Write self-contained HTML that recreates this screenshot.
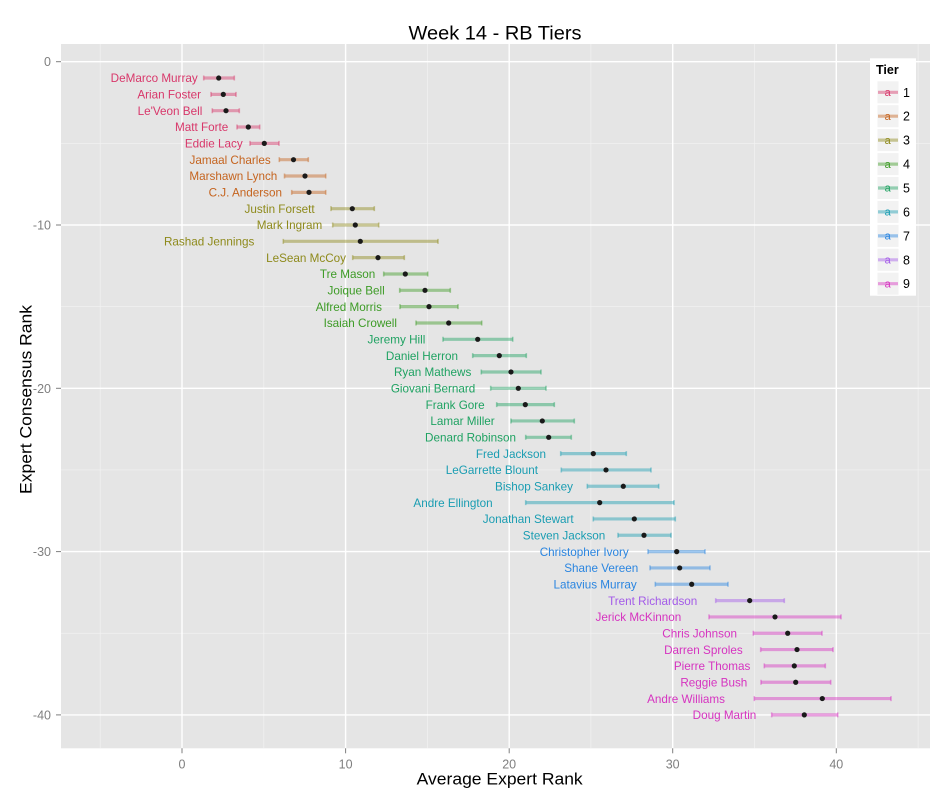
<!DOCTYPE html>
<html><head><meta charset="utf-8"><style>
html,body{margin:0;padding:0;background:#fff;}
svg{display:block;font-family:"Liberation Sans",Arial,sans-serif;}
</style></head><body>
<svg width="950" height="800" viewBox="0 0 950 800" xmlns="http://www.w3.org/2000/svg">
<rect x="0" y="0" width="950" height="800" fill="#fff"/>
<text x="495" y="39.5" font-size="19.5" text-anchor="middle" fill="#000" textLength="173" lengthAdjust="spacingAndGlyphs">Week 14 - RB Tiers</text>
<!-- panel -->
<rect x="61" y="44" width="869" height="704.3" fill="#E5E5E5"/>
<g stroke="#F2F2F2" stroke-width="0.7">
<line x1="100.2" y1="44" x2="100.2" y2="748.3"/>
<line x1="263.8" y1="44" x2="263.8" y2="748.3"/>
<line x1="427.4" y1="44" x2="427.4" y2="748.3"/>
<line x1="590.9" y1="44" x2="590.9" y2="748.3"/>
<line x1="754.5" y1="44" x2="754.5" y2="748.3"/>
<line x1="918.1" y1="44" x2="918.1" y2="748.3"/>
<line x1="61" y1="143.35" x2="930" y2="143.35"/>
<line x1="61" y1="306.65" x2="930" y2="306.65"/>
<line x1="61" y1="469.95" x2="930" y2="469.95"/>
<line x1="61" y1="633.25" x2="930" y2="633.25"/>
</g>
<g stroke="#FFFFFF" stroke-width="1.4">
<line x1="182" y1="44" x2="182" y2="748.3"/>
<line x1="345.6" y1="44" x2="345.6" y2="748.3"/>
<line x1="509.2" y1="44" x2="509.2" y2="748.3"/>
<line x1="672.7" y1="44" x2="672.7" y2="748.3"/>
<line x1="836.3" y1="44" x2="836.3" y2="748.3"/>
<line x1="61" y1="61.7" x2="930" y2="61.7"/>
<line x1="61" y1="225" x2="930" y2="225"/>
<line x1="61" y1="388.3" x2="930" y2="388.3"/>
<line x1="61" y1="551.6" x2="930" y2="551.6"/>
<line x1="61" y1="714.9" x2="930" y2="714.9"/>
</g>
<!-- ticks -->
<g stroke="#7F7F7F" stroke-width="1">
<line x1="56" y1="61.7" x2="61" y2="61.7"/>
<line x1="56" y1="225" x2="61" y2="225"/>
<line x1="56" y1="388.3" x2="61" y2="388.3"/>
<line x1="56" y1="551.6" x2="61" y2="551.6"/>
<line x1="56" y1="714.9" x2="61" y2="714.9"/>
<line x1="182" y1="748.3" x2="182" y2="753.3"/>
<line x1="345.6" y1="748.3" x2="345.6" y2="753.3"/>
<line x1="509.2" y1="748.3" x2="509.2" y2="753.3"/>
<line x1="672.7" y1="748.3" x2="672.7" y2="753.3"/>
<line x1="836.3" y1="748.3" x2="836.3" y2="753.3"/>
</g>
<g fill="#7F7F7F" font-size="12.5" text-anchor="end">
<text x="51" y="66.2">0</text>
<text x="51" y="229.5">-10</text>
<text x="51" y="392.8">-20</text>
<text x="51" y="556.1">-30</text>
<text x="51" y="719.4">-40</text>
</g>
<g fill="#7F7F7F" font-size="12.5" text-anchor="middle">
<text x="182" y="768.3">0</text>
<text x="345.6" y="768.3">10</text>
<text x="509.2" y="768.3">20</text>
<text x="672.7" y="768.3">30</text>
<text x="836.3" y="768.3">40</text>
</g>
<text x="499.7" y="784.3" font-size="16.5" text-anchor="middle" fill="#000" textLength="166" lengthAdjust="spacingAndGlyphs">Average Expert Rank</text>
<text transform="translate(31.7,399.5) rotate(-90)" x="0" y="0" font-size="16.5" text-anchor="middle" fill="#000" textLength="189" lengthAdjust="spacingAndGlyphs">Expert Consensus Rank</text>

<!-- error bars -->
<g stroke-opacity="0.45" fill="none">
<g stroke="#D8376A">
<path stroke-width="3.2" d="M203.7 78.03H234.3M211 94.36H236M212.3 110.69H239.3M237 127.02H259.7M250 143.35H279"/>
<path stroke-width="1.6" d="M203.7 75.5V80.5M234.3 75.5V80.5M211 91.86V96.86M236 91.86V96.86M212.3 108.19V113.19M239.3 108.19V113.19M237 124.52V129.52M259.7 124.52V129.52M250 140.85V145.85M279 140.85V145.85"/>
</g>
<g stroke="#C5641F">
<path stroke-width="3.2" d="M279.3 159.68H308.3M284.5 176.01H325.7M291.7 192.34H325.7"/>
<path stroke-width="1.6" d="M279.3 157.18V162.18M308.3 157.18V162.18M284.5 173.51V178.51M325.7 173.51V178.51M291.7 189.84V194.84M325.7 189.84V194.84"/>
</g>
<g stroke="#8E8A1B">
<path stroke-width="3.2" d="M331 208.67H374.3M332.7 225H378.7M283.3 241.33H438M352.7 257.66H404.3"/>
<path stroke-width="1.6" d="M331 206.17V211.17M374.3 206.17V211.17M332.7 222.5V227.5M378.7 222.5V227.5M283.3 238.83V243.83M438 238.83V243.83M352.7 255.16V260.16M404.3 255.16V260.16"/>
</g>
<g stroke="#3D9B26">
<path stroke-width="3.2" d="M383.7 273.99H427.7M399.7 290.32H450.3M400 306.65H458M416 322.98H481.7"/>
<path stroke-width="1.6" d="M383.7 271.49V276.49M427.7 271.49V276.49M399.7 287.82V292.82M450.3 287.82V292.82M400 304.15V309.15M458 304.15V309.15M416 320.48V325.48M481.7 320.48V325.48"/>
</g>
<g stroke="#1FA262">
<path stroke-width="3.2" d="M443 339.31H512.7M472.7 355.64H526.3M481.3 371.97H541M490.7 388.3H546M496.7 404.63H554.3M511 420.96H574.3M525.7 437.29H571.3"/>
<path stroke-width="1.6" d="M443 336.81V341.81M512.7 336.81V341.81M472.7 353.14V358.14M526.3 353.14V358.14M481.3 369.47V374.47M541 369.47V374.47M490.7 385.8V390.8M546 385.8V390.8M496.7 402.13V407.13M554.3 402.13V407.13M511 418.46V423.46M574.3 418.46V423.46M525.7 434.79V439.79M571.3 434.79V439.79"/>
</g>
<g stroke="#1A9DB2">
<path stroke-width="3.2" d="M560.7 453.62H626.3M561.3 469.95H651M587.3 486.28H658.7M525.7 502.61H674M593.3 518.94H675.3M618 535.27H671"/>
<path stroke-width="1.6" d="M560.7 451.12V456.12M626.3 451.12V456.12M561.3 467.45V472.45M651 467.45V472.45M587.3 483.78V488.78M658.7 483.78V488.78M525.7 500.11V505.11M674 500.11V505.11M593.3 516.44V521.44M675.3 516.44V521.44M618 532.77V537.77M671 532.77V537.77"/>
</g>
<g stroke="#2A85E0">
<path stroke-width="3.2" d="M648 551.6H705M650 567.93H710M655.3 584.26H728"/>
<path stroke-width="1.6" d="M648 549.1V554.1M705 549.1V554.1M650 565.43V570.43M710 565.43V570.43M655.3 581.76V586.76M728 581.76V586.76"/>
</g>
<g stroke="#A35BE8">
<path stroke-width="3.2" d="M715.7 600.59H784.3"/>
<path stroke-width="1.6" d="M715.7 598.09V603.09M784.3 598.09V603.09"/>
</g>
<g stroke="#D633C0">
<path stroke-width="3.2" d="M709 616.92H841M753.3 633.25H822M760.7 649.58H833M764.3 665.91H825.3M761 682.24H830.7M754.3 698.57H891M771.7 714.9H837.7"/>
<path stroke-width="1.6" d="M709 614.42V619.42M841 614.42V619.42M753.3 630.75V635.75M822 630.75V635.75M760.7 647.08V652.08M833 647.08V652.08M764.3 663.41V668.41M825.3 663.41V668.41M761 679.74V684.74M830.7 679.74V684.74M754.3 696.07V701.07M891 696.07V701.07M771.7 712.4V717.4M837.7 712.4V717.4"/>
</g>
</g>

<!-- points -->
<g fill="#1A1A1A">
<circle cx="218.7" cy="78.03" r="2.6"/><circle cx="223.3" cy="94.36" r="2.6"/><circle cx="226" cy="110.69" r="2.6"/><circle cx="248.3" cy="127.02" r="2.6"/><circle cx="264.3" cy="143.35" r="2.6"/>
<circle cx="293.5" cy="159.68" r="2.6"/><circle cx="305" cy="176.01" r="2.6"/><circle cx="309" cy="192.34" r="2.6"/>
<circle cx="352.3" cy="208.67" r="2.6"/><circle cx="355.3" cy="225" r="2.6"/><circle cx="360.3" cy="241.33" r="2.6"/><circle cx="378" cy="257.66" r="2.6"/>
<circle cx="405.3" cy="273.99" r="2.6"/><circle cx="425" cy="290.32" r="2.6"/><circle cx="429" cy="306.65" r="2.6"/><circle cx="448.7" cy="322.98" r="2.6"/>
<circle cx="477.7" cy="339.31" r="2.6"/><circle cx="499.3" cy="355.64" r="2.6"/><circle cx="511" cy="371.97" r="2.6"/><circle cx="518.3" cy="388.3" r="2.6"/><circle cx="525.3" cy="404.63" r="2.6"/><circle cx="542.3" cy="420.96" r="2.6"/><circle cx="548.7" cy="437.29" r="2.6"/>
<circle cx="593.3" cy="453.62" r="2.6"/><circle cx="606" cy="469.95" r="2.6"/><circle cx="623.3" cy="486.28" r="2.6"/><circle cx="599.7" cy="502.61" r="2.6"/><circle cx="634.3" cy="518.94" r="2.6"/><circle cx="644" cy="535.27" r="2.6"/>
<circle cx="676.7" cy="551.6" r="2.6"/><circle cx="679.7" cy="567.93" r="2.6"/><circle cx="691.7" cy="584.26" r="2.6"/>
<circle cx="749.7" cy="600.59" r="2.6"/>
<circle cx="775" cy="616.92" r="2.6"/><circle cx="787.7" cy="633.25" r="2.6"/><circle cx="797" cy="649.58" r="2.6"/><circle cx="794.3" cy="665.91" r="2.6"/><circle cx="795.7" cy="682.24" r="2.6"/><circle cx="822.3" cy="698.57" r="2.6"/><circle cx="804.3" cy="714.9" r="2.6"/>
</g>

<!-- labels -->
<g font-size="11.7" text-anchor="end">
<g fill="#D8376A">
<text x="197.7" y="82.23">DeMarco Murray</text>
<text x="201" y="98.56">Arian Foster</text>
<text x="202.3" y="114.89">Le'Veon Bell</text>
<text x="228.3" y="131.22">Matt Forte</text>
<text x="242.7" y="147.55">Eddie Lacy</text>
</g>
<g fill="#C5641F">
<text x="270.7" y="163.88">Jamaal Charles</text>
<text x="277.3" y="180.21">Marshawn Lynch</text>
<text x="282" y="196.54">C.J. Anderson</text>
</g>
<g fill="#8E8A1B">
<text x="314.7" y="212.87">Justin Forsett</text>
<text x="322.3" y="229.2">Mark Ingram</text>
<text x="254.3" y="245.53">Rashad Jennings</text>
<text x="346" y="261.86">LeSean McCoy</text>
</g>
<g fill="#3D9B26">
<text x="375.3" y="278.19">Tre Mason</text>
<text x="384.7" y="294.52">Joique Bell</text>
<text x="382" y="310.85">Alfred Morris</text>
<text x="397" y="327.18">Isaiah Crowell</text>
</g>
<g fill="#1FA262">
<text x="425.3" y="343.51">Jeremy Hill</text>
<text x="458" y="359.84">Daniel Herron</text>
<text x="471.3" y="376.17">Ryan Mathews</text>
<text x="475.3" y="392.5">Giovani Bernard</text>
<text x="484.7" y="408.83">Frank Gore</text>
<text x="494.7" y="425.16">Lamar Miller</text>
<text x="516" y="441.49">Denard Robinson</text>
</g>
<g fill="#1A9DB2">
<text x="546" y="457.82">Fred Jackson</text>
<text x="538" y="474.15">LeGarrette Blount</text>
<text x="573" y="490.48">Bishop Sankey</text>
<text x="492.7" y="506.81">Andre Ellington</text>
<text x="573.7" y="523.14">Jonathan Stewart</text>
<text x="605.3" y="539.47">Steven Jackson</text>
</g>
<g fill="#2A85E0">
<text x="628.7" y="555.8">Christopher Ivory</text>
<text x="638.3" y="572.13">Shane Vereen</text>
<text x="636.7" y="588.46">Latavius Murray</text>
</g>
<g fill="#A35BE8">
<text x="697.3" y="604.79">Trent Richardson</text>
</g>
<g fill="#D633C0">
<text x="681.3" y="621.12">Jerick McKinnon</text>
<text x="737" y="637.45">Chris Johnson</text>
<text x="742.7" y="653.78">Darren Sproles</text>
<text x="750.3" y="670.11">Pierre Thomas</text>
<text x="747.3" y="686.44">Reggie Bush</text>
<text x="725" y="702.77">Andre Williams</text>
<text x="756.3" y="719.1">Doug Martin</text>
</g>
</g>

<!-- legend -->
<rect x="870" y="58.3" width="46" height="237.4" fill="#fff"/>
<text x="876" y="74" font-size="12.5" font-weight="bold" fill="#000">Tier</text>
<g stroke="#fff" stroke-width="1" fill="#F2F2F2">
<rect x="877" y="80.8" width="22" height="23"/>
<rect x="877" y="104.7" width="22" height="23"/>
<rect x="877" y="128.6" width="22" height="23"/>
<rect x="877" y="152.6" width="22" height="23"/>
<rect x="877" y="176.5" width="22" height="23"/>
<rect x="877" y="200.4" width="22" height="23"/>
<rect x="877" y="224.4" width="22" height="23"/>
<rect x="877" y="248.3" width="22" height="23"/>
<rect x="877" y="272.2" width="22" height="23"/>
</g>
<g stroke-width="3.2" stroke-opacity="0.45">
<line x1="878" y1="92.3" x2="898" y2="92.3" stroke="#D8376A"/>
<line x1="878" y1="116.2" x2="898" y2="116.2" stroke="#C5641F"/>
<line x1="878" y1="140.1" x2="898" y2="140.1" stroke="#8E8A1B"/>
<line x1="878" y1="164.1" x2="898" y2="164.1" stroke="#3D9B26"/>
<line x1="878" y1="188" x2="898" y2="188" stroke="#1FA262"/>
<line x1="878" y1="211.9" x2="898" y2="211.9" stroke="#1A9DB2"/>
<line x1="878" y1="235.9" x2="898" y2="235.9" stroke="#2A85E0"/>
<line x1="878" y1="259.8" x2="898" y2="259.8" stroke="#A35BE8"/>
<line x1="878" y1="283.7" x2="898" y2="283.7" stroke="#D633C0"/>
</g>
<g font-size="11" text-anchor="middle">
<text x="887.7" y="96" fill="#D8376A">a</text>
<text x="887.7" y="119.9" fill="#C5641F">a</text>
<text x="887.7" y="143.8" fill="#8E8A1B">a</text>
<text x="887.7" y="167.8" fill="#3D9B26">a</text>
<text x="887.7" y="191.7" fill="#1FA262">a</text>
<text x="887.7" y="215.6" fill="#1A9DB2">a</text>
<text x="887.7" y="239.6" fill="#2A85E0">a</text>
<text x="887.7" y="263.5" fill="#A35BE8">a</text>
<text x="887.7" y="287.4" fill="#D633C0">a</text>
</g>
<g font-size="12.5" fill="#000">
<text x="903" y="96.8">1</text>
<text x="903" y="120.7">2</text>
<text x="903" y="144.6">3</text>
<text x="903" y="168.6">4</text>
<text x="903" y="192.5">5</text>
<text x="903" y="216.4">6</text>
<text x="903" y="240.4">7</text>
<text x="903" y="264.3">8</text>
<text x="903" y="288.2">9</text>
</g>
</svg>
</body></html>
